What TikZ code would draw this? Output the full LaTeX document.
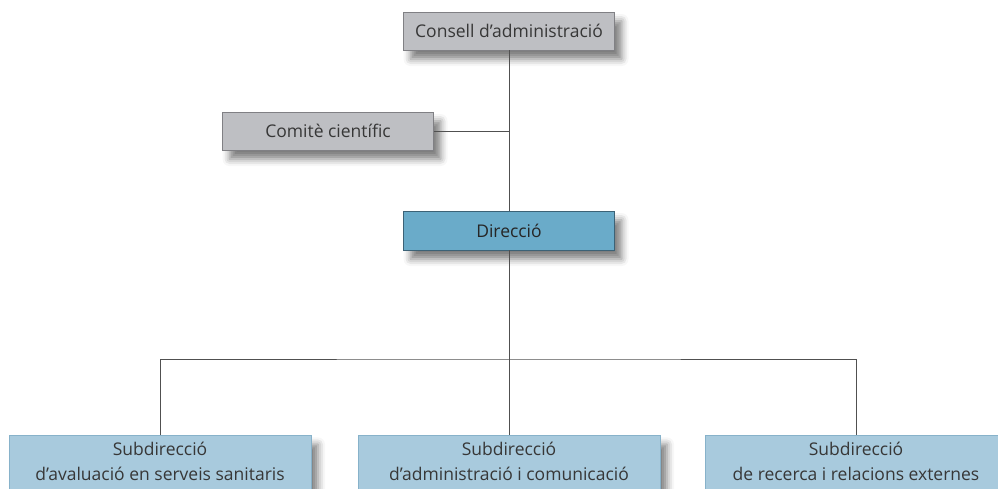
\documentclass[tikz,border=0pt]{standalone}
\usepackage{fontspec}
\setmainfont{Open Sans}
\usepackage{tikz}
\usetikzlibrary{shadows.blur}
\definecolor{boxgray}{RGB}{190,191,195}
\definecolor{boxgrayline}{RGB}{128,128,132}
\definecolor{dirblue}{RGB}{106,171,201}
\definecolor{dirblueline}{RGB}{60,98,118}
\definecolor{subblue}{RGB}{168,202,221}
\definecolor{subblueline}{RGB}{135,178,202}
\definecolor{linkgray}{RGB}{80,80,80}
\definecolor{textgray}{RGB}{55,55,55}
\tikzset{
  org/.style={x=1pt,y=-1pt,font=\fontsize{17.5}{25}\selectfont,text=textgray},
  unit/.style={draw,line width=0.8pt,align=center,inner sep=0pt,
    blur shadow={shadow xshift=7pt,shadow yshift=-9pt,shadow blur radius=7pt,shadow opacity=50}},
  board/.style={unit,fill=boxgray,draw=boxgrayline,minimum width=211pt,minimum height=38pt},
  head/.style={unit,fill=dirblue,draw=dirblueline,minimum width=211pt,minimum height=39pt},
  branch/.style={unit,fill=subblue,draw=subblueline,minimum width=302pt,inner ysep=6.5pt,text depth=22pt},
  link/.style={draw=linkgray,line width=0.9pt},
}
\begin{document}
\begin{tikzpicture}[org]
\useasboundingbox (0,0) rectangle (998,488);
\clip (0,0) rectangle (998,488);
\node[board] (consell) at (509,31) {Consell d’administració};
\node[board] (comite) at (328,131) {Comitè científic};
\node[head,text=black!85] (direccio) at (509,230.5) {Direcció};
% subdireccions
\node[branch,anchor=north] (sub1) at (160,435) {Subdirecció\\d’avaluació en serveis sanitaris};
\node[branch,anchor=north] (sub2) at (509,435) {Subdirecció\\d’administració i comunicació};
\node[branch,anchor=north] (sub3) at (856,435) {Subdirecció\\de recerca i relacions externes};
\coordinate (bus) at (509,359);
\draw[link] (consell.south) -- (direccio.north);
\draw[link] (comite.east) -- (comite.east -| consell.south);
\draw[link] (direccio.south) -- (bus);
\draw[link] (sub1.north) |- (bus) -| (sub3.north);
\draw[link] (bus) -- (sub2.north);
\end{tikzpicture}
\end{document}
